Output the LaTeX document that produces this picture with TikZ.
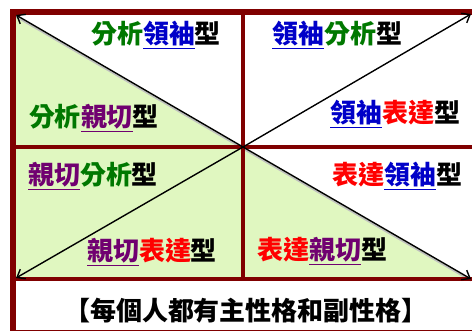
\documentclass[tikz,border=0pt]{standalone}
\usepackage{fontspec}
\usepackage{tikz}
\usetikzlibrary{arrows.meta}
\newfontfamily\cjk{Noto Sans CJK TC}
\definecolor{frame}{RGB}{128,0,0}
\definecolor{leaf}{RGB}{224,247,192}
\definecolor{fxgreen}{RGB}{0,120,0}
\definecolor{lxblue}{RGB}{0,0,200}
\definecolor{qqpurple}{RGB}{112,0,112}
\definecolor{bdred}{RGB}{255,0,0}
\newcommand{\fenxi}{\textcolor{fxgreen}{分析}}
\newcommand{\lingxiu}{\textcolor{lxblue}{\underline{領袖}}}
\newcommand{\qinqie}{\textcolor{qqpurple}{\underline{親切}}}
\newcommand{\biaoda}{\textcolor{bdred}{表達}}
\tikzset{
  kind/.style={inner sep=0pt,font=\cjk\bfseries\fontsize{26}{26}\selectfont},
  ray/.style={black,line width=1.4pt,-{Straight Barb[length=7pt,width=11pt]}}
}
\begin{document}
\begin{tikzpicture}[x=1pt,y=-1pt]
  \useasboundingbox (0,0) rectangle (472,331);
  \coordinate (tl) at (16,15);
  \coordinate (tr) at (471,14);
  \coordinate (bl) at (16,278);
  \coordinate (br) at (471,279);
  \coordinate (ctr) at (243,147);

  % shaded half
  \fill[leaf] (tl) -- (ctr) -- (br) -- (bl) -- cycle;
  \draw[black!25,line width=1.5pt] ([yshift=-1.8pt]tl) -- ([yshift=-1.8pt]ctr) -- ([yshift=-1.8pt]br);

  % frame
  \draw[frame,line width=5.5pt] (13,335) -- (13,12) -- (480,12);
  \draw[frame,line width=4pt] (243,12) -- (243,279)
    (13,147) -- (480,147)
    (13,279) -- (480,279);
  \draw[frame,line width=2pt] (13,331) -- (480,331);

  % arrows
  \foreach \c in {tl,tr,bl,br}
    \draw[ray] (ctr) -- (\c);

  % labels
  \node[kind] (fl) at (156,35) {\fenxi\lingxiu 型};
  \node[kind] (fq) at (94,118) {\fenxi\qinqie 型};
  \node[kind] (lf) at (337,35) {\lingxiu\fenxi 型};
  \node[kind] (lb) at (395,114) {\lingxiu\biaoda 型};
  \node[kind] (qf) at (93,176) {\qinqie\fenxi 型};
  \node[kind] (qb) at (152,252) {\qinqie\biaoda 型};
  \node[kind] (bl2) at (397,176) {\biaoda\lingxiu 型};
  \node[kind] (bq) at (322,251) {\biaoda\qinqie 型};
  \node[kind] (note) at (246,311) {【每個人都有主性格和副性格】};
\end{tikzpicture}
\end{document}
